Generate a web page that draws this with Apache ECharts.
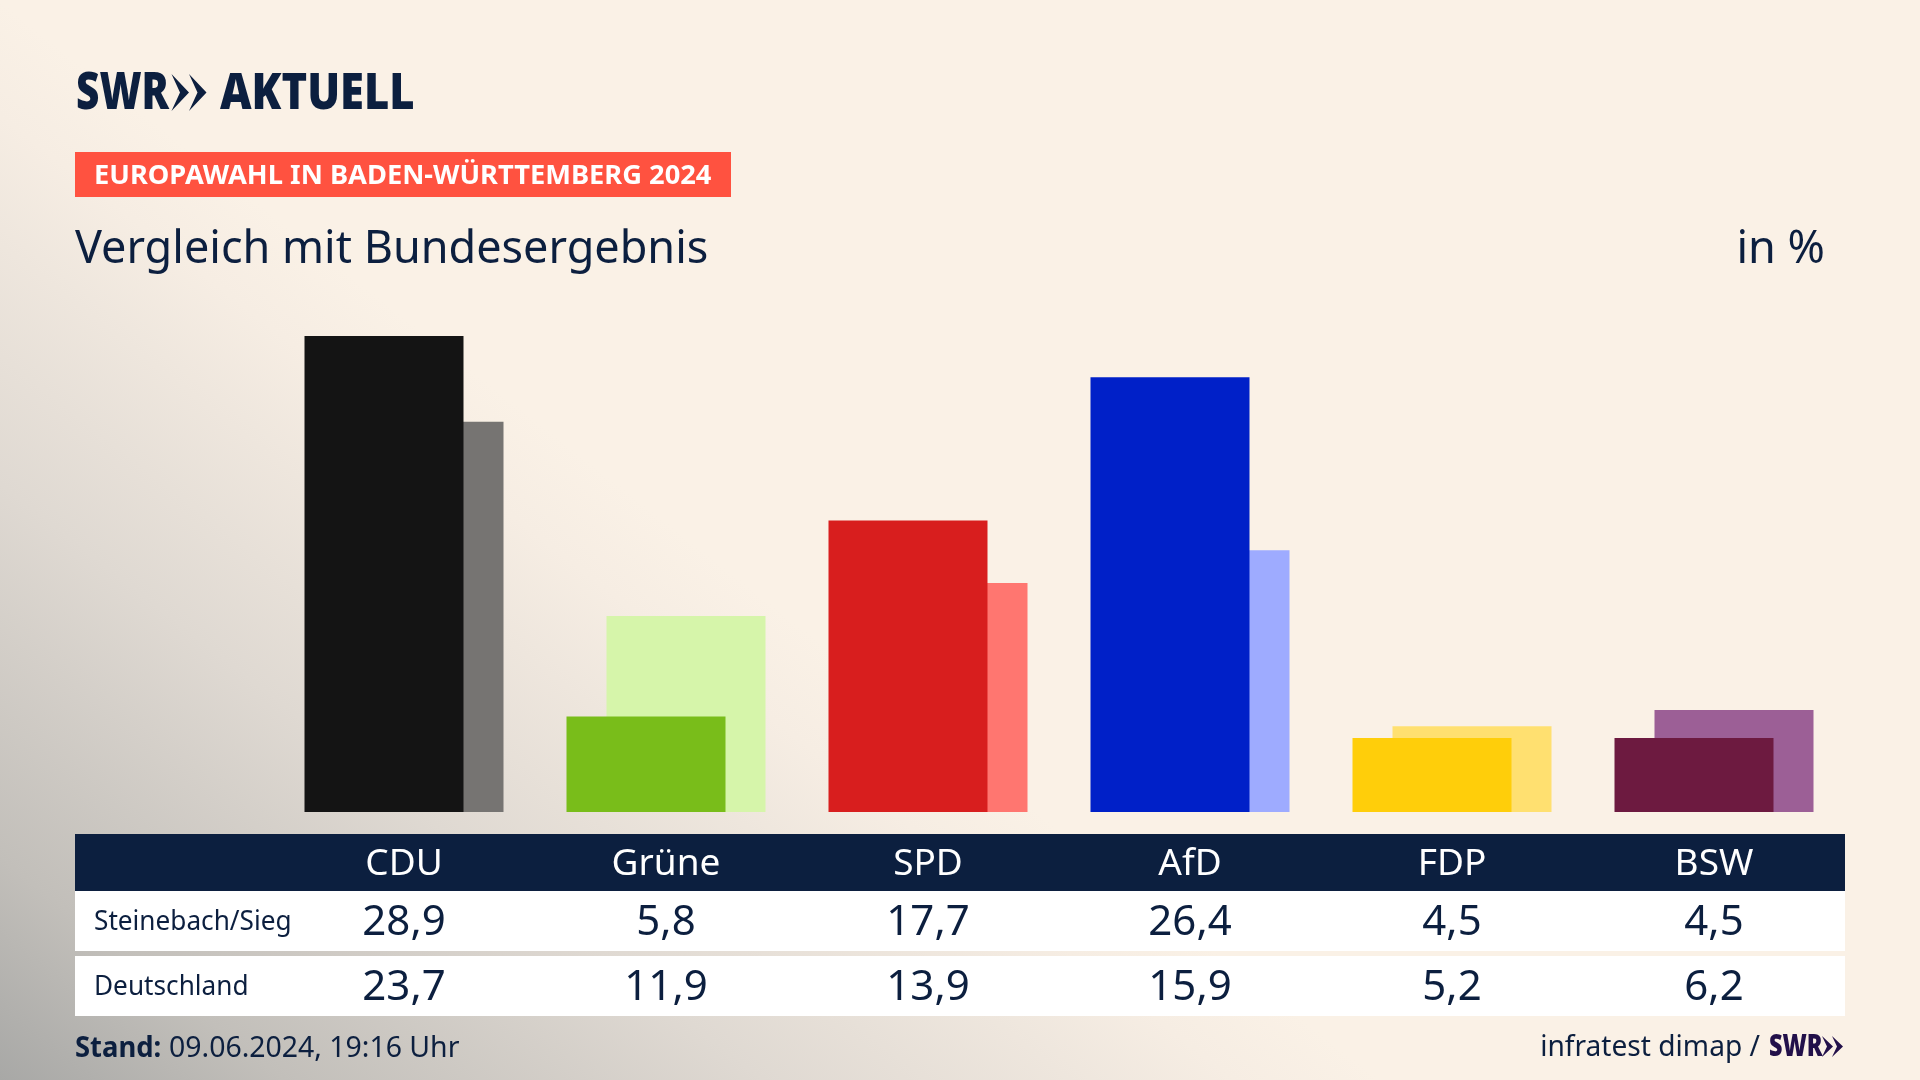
<!DOCTYPE html>
<html><head><meta charset="utf-8">
<script src="https://cdn.jsdelivr.net/npm/echarts@6/dist/echarts.min.js"></script>
<style>
html,body{margin:0;padding:0;width:1920px;height:1080px;overflow:hidden;
background:linear-gradient(38deg,#a8a8a6 0,#c2bfba 175px,#dfd9d2 470px,#f6ede3 760px,#faf1e6 850px);}
#c{width:1920px;height:1080px;}
</style></head><body><div id="c"></div>
<script>
const categories = ['CDU','Grüne','SPD','AfD','FDP','BSW'];
const steinebach = [28.9,5.8,17.7,26.4,4.5,4.5];
const deutschland = [23.7,11.9,13.9,15.9,5.2,6.2];
const frontColors = ['#141414','#79BD1A','#D81E1E','#0020C8','#FFCE0A','#6D1A40'];
const backColors = ['#767472','#D6F5AA','#FF7670','#9EABFF','#FFE070','#9C5F96'];
const rowNames = ['Steinebach/Sieg','Deutschland'];
const navy = '#0C1F3F';
const fmt = v => v.toFixed(1).replace('.', ',');
const FF = '"Noto Sans"';

function extraAxis(vals, margin){
  return {type:'category',data:vals.map(fmt),gridIndex:0,position:'bottom',
    axisLine:{show:false},axisTick:{show:false},splitLine:{show:false},
    axisLabel:{interval:0,margin,verticalAlign:'middle',color:navy,fontFamily:FF,fontSize:42,hideOverlap:false}};
}
function T(x,y,text,font,fill,sx,align){
  return {type:'text',x,y:y+2.5,z:50,scaleX:sx||1,style:{x:0,y:0,text,font,fill,textVerticalAlign:'middle',textAlign:align||'left'}};
}
function R(x,y,w,h,fill){return {type:'rect',z:-10,shape:{x,y,width:w,height:h},style:{fill}};}
function chev(x,top,w,h,t,fill){
  const m=top+h/2,b=top+h;
  return {type:'polygon',z:50,shape:{points:[[x,top],[x+w,m],[x,b],[x+w-t,m]]},style:{fill}};
}
const chart = echarts.init(document.getElementById('c'),null,{renderer:'canvas'});
chart.setOption({
  animation:false,
  backgroundColor:'transparent',
  grid:{left:273,width:1572,top:318,height:494,containLabel:false},
  xAxis:[
    {type:'category',data:categories,position:'bottom',
     axisLine:{show:false},axisTick:{show:false},splitLine:{show:false},
     axisLabel:{interval:0,margin:52,verticalAlign:'middle',color:'#fff',fontFamily:FF,fontSize:37,hideOverlap:false}},
    extraAxis(steinebach,111),
    extraAxis(deutschland,176)
  ],
  yAxis:{type:'value',min:0,max:30,show:false,splitLine:{show:false}},
  series:[
    {name:rowNames[0],type:'bar',z:3,barWidth:159,barGap:'-74.84%',
     data:steinebach.map((v,i)=>({value:v,itemStyle:{color:frontColors[i]}}))},
    {name:rowNames[1],type:'bar',z:2,barWidth:159,
     data:deutschland.map((v,i)=>({value:v,itemStyle:{color:backColors[i]}}))}
  ],
  graphic:{elements:[
    R(75,834,1770,57,navy),
    R(75,891,1770,60,'#fff'),
    R(75,956,1770,60,'#fff'),
    R(75,152,656,45,'#FF5240'),
    T(76,92,'SWR','900 52px '+FF,navy,0.78),
    chev(171.5,74,17.5,37,9,navy),
    chev(189,74,17.5,37,9,navy),
    T(220,92,'AKTUELL','900 50px '+FF,navy,0.87),
    T(94,173.5,'EUROPAWAHL IN BADEN-WÜRTTEMBERG 2024','bold 27px '+FF,'#fff',1.01),
    T(75,248,'Vergleich mit Bundesergebnis','45px '+FF,navy),
    T(1825,248,'in %','45px '+FF,navy,1,'right'),
    T(94,920,rowNames[0],'27px '+FF,navy,0.97),
    T(94,985,rowNames[1],'27px '+FF,navy,0.97),
    T(75,1046,'Stand:','bold 29px '+FF,navy,0.945),
    T(169,1046,'09.06.2024, 19:16 Uhr','29px '+FF,navy,0.98),
    T(1760,1045,'infratest dimap /','29px '+FF,navy,0.97,'right'),
    T(1769,1045,'SWR','900 30px '+FF,'#22104A',0.78),
    chev(1822,1036,11,21,6,'#22104A'),
    chev(1832,1036,11,21,6,'#22104A')
  ]}
});
</script></body></html>
